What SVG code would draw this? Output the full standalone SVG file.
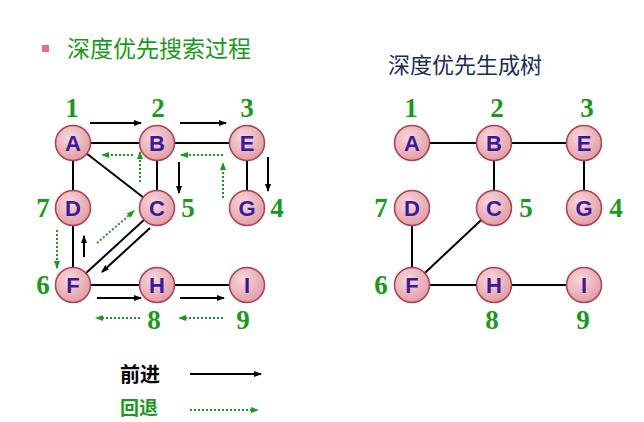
<svg xmlns="http://www.w3.org/2000/svg" width="644" height="422" viewBox="0 0 644 422">
<defs>
<radialGradient id="g" cx="40%" cy="35%" r="70%"><stop offset="0" stop-color="#f8d8dc"/><stop offset="1" stop-color="#e09aa4"/></radialGradient>
<marker id="ab" markerWidth="8" markerHeight="6" refX="7" refY="3" orient="auto" markerUnits="userSpaceOnUse"><path d="M0,0L8,3L0,6z" fill="#000"/></marker>
<marker id="ag" markerWidth="8" markerHeight="6" refX="7" refY="3" orient="auto" markerUnits="userSpaceOnUse"><path d="M0,0L8,3L0,6z" fill="#1a9a1a"/></marker>
</defs>
<style>
.n circle{fill:url(#g);stroke:#b04050;stroke-width:1.5}
.n text{font-family:"Liberation Sans",sans-serif;font-weight:bold;font-size:22px;fill:#3a1a9a;text-anchor:middle}
.e{stroke:#000;stroke-width:2;fill:none}
.f{stroke:#000;stroke-width:2;marker-end:url(#ab)}
.b{stroke:#1a9a1a;stroke-width:2;stroke-dasharray:2,2;marker-end:url(#ag)}
.num{font-family:"Liberation Serif",serif;font-weight:bold;font-size:27px;fill:#1a9a1a;text-anchor:middle}
</style>
<rect x="42" y="45" width="7" height="7" fill="#e07080"/>
<text x="67" y="57" font-family="Noto Sans CJK SC,sans-serif" font-size="23" fill="#1a9a1a">深度优先搜索过程</text>
<text x="388" y="73" font-family="Noto Sans CJK SC,sans-serif" font-size="22" fill="#1a2a5a">深度优先生成树</text>
<g id="connectors">
<path class="e" d="M73,143H157H247M73,143V208M73,143L157,208M157,143V208M247,143V208M73,208V285M157,208L73,285M73,285H157H247"/>
<path class="e" d="M412,143H494H584M494,143V208M584,143V208M412,208V285M494,208L412,285M412,285H494H584"/>
<line class="f" x1="90" y1="123" x2="141" y2="123"/>
<line class="f" x1="180" y1="123" x2="226" y2="123"/>
<line class="f" x1="268" y1="157" x2="268" y2="191"/>
<line class="f" x1="179" y1="162" x2="179" y2="193"/>
<line class="f" x1="150" y1="228" x2="102" y2="272"/>
<line class="f" x1="84" y1="257" x2="84" y2="236"/>
<line class="f" x1="97" y1="298" x2="141" y2="298"/>
<line class="f" x1="180" y1="298" x2="224" y2="298"/>
<line class="b" x1="223" y1="198" x2="223" y2="163"/>
<line class="b" x1="223" y1="155" x2="181" y2="155"/>
<line class="b" x1="140" y1="182" x2="140" y2="152"/>
<line class="b" x1="133" y1="155" x2="102" y2="155"/>
<line class="b" x1="57" y1="230" x2="57" y2="268"/>
<line class="b" x1="97" y1="243" x2="134" y2="211"/>
<line class="b" x1="140" y1="318" x2="96" y2="318"/>
<line class="b" x1="223" y1="318" x2="179" y2="318"/>
<line class="f" x1="190" y1="374" x2="261" y2="374"/>
<line class="b" x1="190" y1="410" x2="258" y2="410"/>
</g>
<g id="A"  class="n"><circle cx="73" cy="143" r="17.5"/><text x="73" y="151">A</text></g>
<g id="B"  class="n"><circle cx="157" cy="143" r="17.5"/><text x="157" y="151">B</text></g>
<g id="E"  class="n"><circle cx="247" cy="143" r="17.5"/><text x="247" y="151">E</text></g>
<g id="D"  class="n"><circle cx="73" cy="208" r="17.5"/><text x="73" y="216">D</text></g>
<g id="C"  class="n"><circle cx="157" cy="208" r="17.5"/><text x="157" y="216">C</text></g>
<g id="G"  class="n"><circle cx="247" cy="208" r="17.5"/><text x="247" y="216">G</text></g>
<g id="F"  class="n"><circle cx="73" cy="285" r="17.5"/><text x="73" y="293">F</text></g>
<g id="H"  class="n"><circle cx="157" cy="285" r="17.5"/><text x="157" y="293">H</text></g>
<g id="I"  class="n"><circle cx="247" cy="285" r="17.5"/><text x="247" y="293">I</text></g>
<g id="A2" class="n"><circle cx="412" cy="143" r="17.5"/><text x="412" y="151">A</text></g>
<g id="B2" class="n"><circle cx="494" cy="143" r="17.5"/><text x="494" y="151">B</text></g>
<g id="E2" class="n"><circle cx="584" cy="143" r="17.5"/><text x="584" y="151">E</text></g>
<g id="D2" class="n"><circle cx="412" cy="208" r="17.5"/><text x="412" y="216">D</text></g>
<g id="C2" class="n"><circle cx="494" cy="208" r="17.5"/><text x="494" y="216">C</text></g>
<g id="G2" class="n"><circle cx="584" cy="208" r="17.5"/><text x="584" y="216">G</text></g>
<g id="F2" class="n"><circle cx="412" cy="285" r="17.5"/><text x="412" y="293">F</text></g>
<g id="H2" class="n"><circle cx="494" cy="285" r="17.5"/><text x="494" y="293">H</text></g>
<g id="I2" class="n"><circle cx="584" cy="285" r="17.5"/><text x="584" y="293">I</text></g>
<g id="labels">
<text class="num" x="72" y="117">1</text><text class="num" x="158" y="117">2</text><text class="num" x="247" y="117">3</text>
<text class="num" x="43" y="217">7</text><text class="num" x="188" y="217">5</text><text class="num" x="277" y="217">4</text>
<text class="num" x="43" y="294">6</text><text class="num" x="154" y="329">8</text><text class="num" x="243" y="329">9</text>
<text class="num" x="411" y="117">1</text><text class="num" x="497" y="117">2</text><text class="num" x="587" y="117">3</text>
<text class="num" x="381" y="217">7</text><text class="num" x="526" y="217">5</text><text class="num" x="616" y="217">4</text>
<text class="num" x="381" y="294">6</text><text class="num" x="492" y="329">8</text><text class="num" x="583" y="329">9</text>
</g>
<text x="120" y="382" font-family="Noto Sans CJK SC,sans-serif" font-weight="bold" font-size="20" fill="#000">前进</text>
<text x="120" y="415" font-family="Noto Sans CJK SC,sans-serif" font-weight="bold" font-size="19" fill="#1a9a1a">回退</text>
</svg>
